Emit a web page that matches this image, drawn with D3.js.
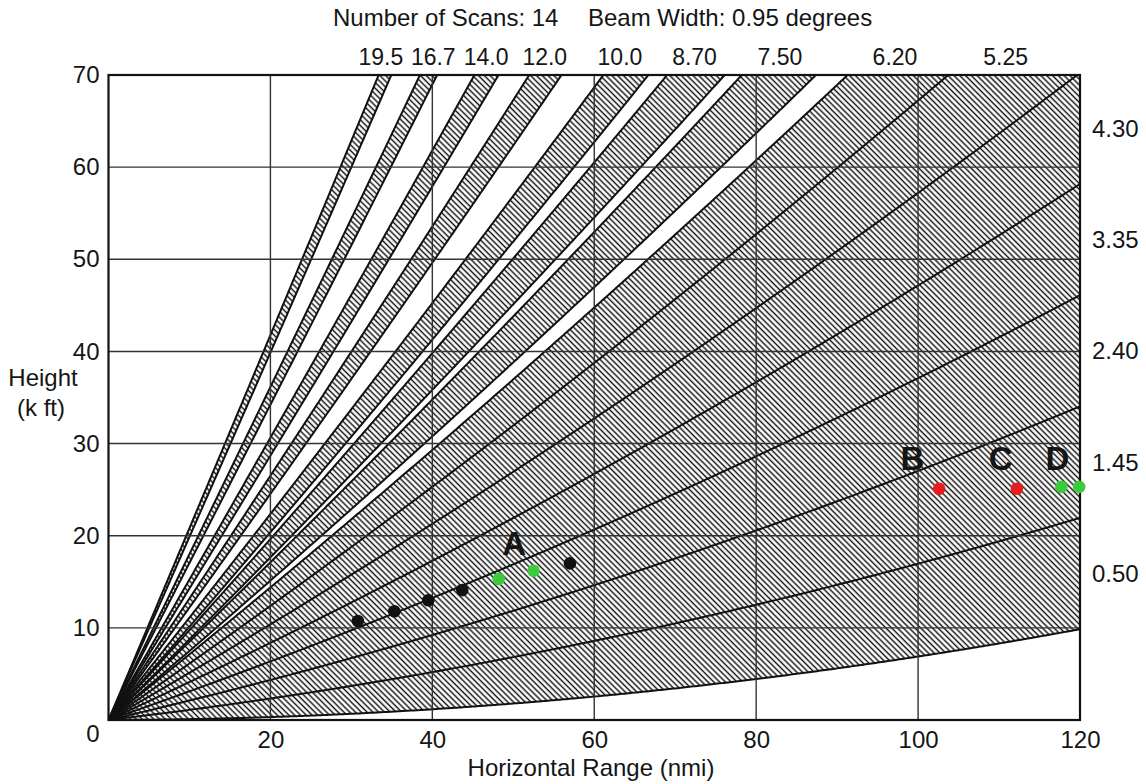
<!DOCTYPE html>
<html>
<head>
<meta charset="utf-8">
<script src="https://cdn.jsdelivr.net/npm/d3@7"></script>
<style>
  body { margin: 0; background: #fff; }
  svg { display: block; }
  text { font-family: "Liberation Sans", Arial, Helvetica, sans-serif; fill: #151515; }
</style>
</head>
<body>
<svg id="chart" width="1146" height="784"></svg>
<script>
// ---------------- data ----------------
const numberOfScans = 14;
const beamWidth = 0.95;                       // degrees
const beamAngles = [0.50, 1.45, 2.40, 3.35, 4.30, 5.25, 6.20, 7.50, 8.70, 10.0, 12.0, 14.0, 16.7, 19.5];
const beamLabels = ["0.50", "1.45", "2.40", "3.35", "4.30", "5.25", "6.20", "7.50", "8.70", "10.0", "12.0", "14.0", "16.7", "19.5"];
const xTickValues = [20, 40, 60, 80, 100, 120];
const yTickValues = [0, 10, 20, 30, 40, 50, 60, 70];
const blackPoints = [[30.8, 10.75], [35.3, 11.8], [39.5, 13.0], [43.7, 14.1], [57.0, 17.0]];
const greenPoints = [[48.2, 15.3], [52.5, 16.2], [117.7, 25.3], [119.9, 25.3]];
const redPoints = [[102.6, 25.1], [112.2, 25.1]];
const pointLabels = ["A", "B", "C", "D"];
const pointLabelAt = [[50.1, 19.2], [99.3, 28.4], [110.2, 28.4], [117.2, 28.4]];

// 4/3 effective earth radius beam geometry
const effEarthRadiusNmi = 4586.8;
const ftPerNmi = 6076.1;
function heightKft(r, deg) {
  const t = deg * Math.PI / 180;
  return (r * Math.sin(t) + r * r / (2 * effEarthRadiusNmi)) * ftPerNmi / 1000;
}

// ---------------- layout ----------------
const svg = d3.select("#chart");
const L = 108.5, R = 1080, T = 75, B = 720;
const x = d3.scaleLinear().domain([0, 120]).range([L, R]);
const y = d3.scaleLinear().domain([0, 70]).range([B, T]);
const FS = 24;

svg.append("rect").attr("width", 1146).attr("height", 784).attr("fill", "#fff");

const defs = svg.append("defs");
defs.append("clipPath").attr("id", "plotClip")
  .append("rect").attr("x", L).attr("y", T).attr("width", R - L).attr("height", B - T);
const pat = defs.append("pattern").attr("id", "hatch")
  .attr("patternUnits", "userSpaceOnUse")
  .attr("width", 4.1).attr("height", 10)
  .attr("patternTransform", "rotate(-45)");
pat.append("line").attr("x1", 2).attr("x2", 2).attr("y1", -1).attr("y2", 11)
  .attr("stroke", "#111").attr("stroke-width", 1.45);

const ranges = d3.range(0, 120.001, 0.25);
const plot = svg.append("g").attr("clip-path", "url(#plotClip)");

// hatched beams
const area = d3.area()
  .x(d => x(d.r))
  .y0(d => y(d.lo))
  .y1(d => y(d.hi));
beamAngles.forEach(a => {
  const pts = ranges.map(r => ({ r, lo: heightKft(r, a - beamWidth / 2), hi: heightKft(r, a + beamWidth / 2) }));
  plot.append("path").attr("d", area(pts)).attr("fill", "url(#hatch)");
});

// grid
const grid = svg.append("g").attr("stroke", "#333").attr("stroke-width", 1.4);
xTickValues.filter(v => v < 120).forEach(v =>
  grid.append("line").attr("x1", x(v)).attr("x2", x(v)).attr("y1", T).attr("y2", B));
yTickValues.filter(v => v > 0 && v < 70).forEach(v =>
  grid.append("line").attr("x1", L).attr("x2", R).attr("y1", y(v)).attr("y2", y(v)));

// beam edges
const edges = [];
beamAngles.forEach(a => {
  [a - beamWidth / 2, a + beamWidth / 2].forEach(e => {
    if (!edges.some(v => Math.abs(v - e) < 1e-6)) edges.push(e);
  });
});
const line = d3.line().x(d => x(d[0])).y(d => y(d[1]));
edges.forEach(e => {
  plot.append("path").attr("d", line(ranges.map(r => [r, heightKft(r, e)])))
    .attr("fill", "none").attr("stroke", "#111").attr("stroke-width", 2);
});

// frame
svg.append("rect").attr("x", L).attr("y", T).attr("width", R - L).attr("height", B - T)
  .attr("fill", "none").attr("stroke", "#111").attr("stroke-width", 2.2);

// axes (labels only)
const xAxis = svg.append("g").attr("transform", `translate(0,${B})`)
  .call(d3.axisBottom(x).tickValues(xTickValues).tickSize(0).tickPadding(11));
const yAxis = svg.append("g").attr("transform", `translate(${L},0)`)
  .call(d3.axisLeft(y).tickValues(yTickValues).tickSize(0).tickPadding(9));
[xAxis, yAxis].forEach(g => {
  g.select(".domain").remove();
  g.selectAll("text").attr("font-size", FS).attr("font-family", null).attr("fill", "#151515");
});
yAxis.selectAll(".tick").filter(d => d === 0).select("text").attr("dy", "0.9em");

// axis titles
svg.append("text").attr("x", 43).attr("y", 378).attr("dy", "0.35em").attr("text-anchor", "middle")
  .attr("font-size", FS).text("Height");
svg.append("text").attr("x", 41).attr("y", 408).attr("dy", "0.35em").attr("text-anchor", "middle")
  .attr("font-size", FS).text("(k ft)");
svg.append("text").attr("x", 591).attr("y", 768).attr("dy", "0.35em").attr("text-anchor", "middle")
  .attr("font-size", FS).text("Horizontal Range (nmi)");

// header
svg.append("text").attr("x", 333).attr("y", 26).attr("font-size", FS)
  .text("Number of Scans: " + numberOfScans);
svg.append("text").attr("x", 588).attr("y", 26).attr("font-size", FS)
  .text("Beam Width: " + beamWidth.toFixed(2) + " degrees");

// beam labels: along top where the beam centre leaves the top, else at right edge
const topNudge = { "19.5": -4, "16.7": 5, "10.0": -5, "7.50": 3, "5.25": -3 };
beamAngles.forEach((a, i) => {
  const lab = beamLabels[i];
  const hEnd = heightKft(120, a);
  if (hEnd > 70) {
    let lo = 0, hi = 120;
    for (let k = 0; k < 50; k++) { const m = (lo + hi) / 2; if (heightKft(m, a) > 70) hi = m; else lo = m; }
    svg.append("text").attr("x", x(lo) + (topNudge[lab] || 0)).attr("y", 65)
      .attr("text-anchor", "middle").attr("font-size", 23).text(lab);
  } else {
    svg.append("text").attr("x", 1092).attr("y", y(hEnd)).attr("dy", "0.35em")
      .attr("font-size", FS).text(lab);
  }
});

// points
const dots = svg.append("g");
function drawDots(arr, col) {
  dots.selectAll(null).data(arr).enter().append("circle")
    .attr("cx", d => x(d[0])).attr("cy", d => y(d[1])).attr("r", 6.3).attr("fill", col);
}
drawDots(blackPoints, "#111");
drawDots(greenPoints, "#3ccb3c");
drawDots(redPoints, "#ea1c1c");

pointLabels.forEach((t, i) => {
  svg.append("text").attr("x", x(pointLabelAt[i][0])).attr("y", y(pointLabelAt[i][1]))
    .attr("dy", "0.36em").attr("text-anchor", "middle")
    .attr("font-size", 33).attr("font-weight", "bold").attr("fill", "#000").text(t);
});
</script>
</body>
</html>
